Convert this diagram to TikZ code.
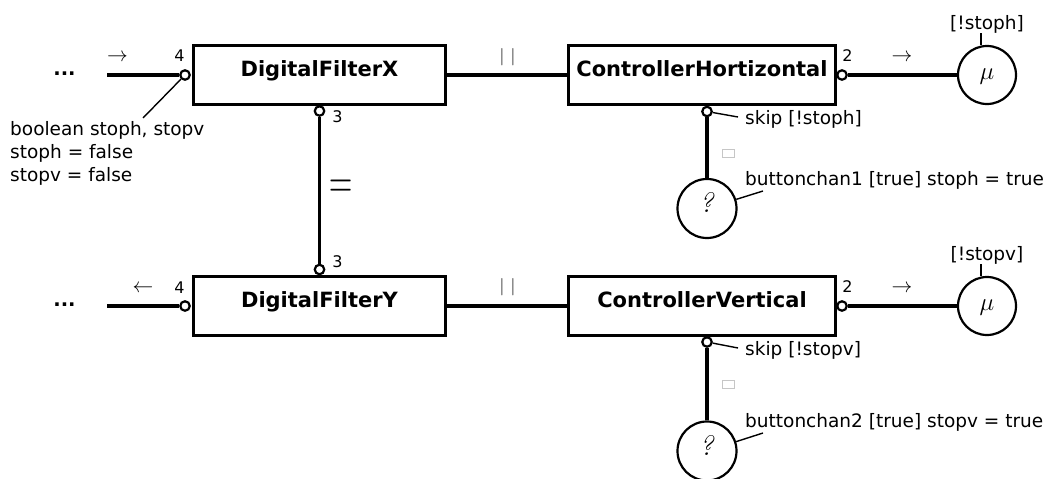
\documentclass[tikz,border=0pt]{standalone}
\usepackage{fontspec}
\usepackage{graphicx}
\newfontfamily\dejavu{DejaVu Sans}
\begin{document}
\begin{tikzpicture}[x=1pt,y=-1pt,
  block/.style={draw, line width=3.4pt, minimum height=59pt, inner sep=0pt,
    font=\dejavu\bfseries\fontsize{21}{25}\selectfont,
    text height=15pt, text depth=11.6pt},
  port/.style={circle, draw, fill=white, line width=2.2pt, minimum size=9.5pt, inner sep=0pt},
  act/.style={circle, draw, line width=2.2pt, minimum size=58pt, inner sep=0pt,
    font=\fontsize{28}{28}\selectfont, text height=14pt, text depth=6pt},
  wire/.style={line width=3.4pt},
  note/.style={line width=1.4pt},
  lbl/.style={font=\dejavu\fontsize{18.5}{23}\selectfont, inner sep=0pt},
  num/.style={font=\dejavu\fontsize{16}{18}\selectfont, inner sep=0pt},
  sym/.style={font=\fontsize{21}{21}\selectfont, inner sep=0pt},
  dots/.style={font=\dejavu\bfseries\fontsize{19.5}{22}\selectfont, inner sep=0pt},
  glyphbox/.style={draw=gray!45, line width=0.9pt, minimum width=12pt, minimum height=8pt, inner sep=0pt}
]
\useasboundingbox (0,0) rectangle (1050,479);

% ---------- horizontal channel (upper row) ----------
\node[block, minimum width=252pt] (dfx) at (319.5,75) {DigitalFilterX};
\node[block, minimum width=267pt] (chx) at (702,75) {ControllerHortizontal};
\node[act] (mux) at (987,75) {$\mu$};
\node[act, minimum size=59pt] (qx) at (707,208.5) {\textit{?}};

\node[port] (dfx4) at (185,75) {};
\node[port] (dfx3) at (319.5,111) {};
\node[port] (chx2) at (842,75) {};
\node[port] (chxs) at (707,111.5) {};

% ---------- vertical channel (lower row) ----------
\node[block, minimum width=252pt] (dfy) at (319.5,306) {DigitalFilterY};
\node[block, minimum width=267pt] (cv) at (702,306) {ControllerVertical};
\node[act] (muy) at (987,306) {$\mu$};
\node[act, minimum size=59pt] (qy) at (707,451) {\textit{?}};

\node[port] (dfy4) at (185,306) {};
\node[port] (dfy3) at (319.5,269.5) {};
\node[port] (cv2) at (842,306) {};
\node[port] (cvs) at (707,342) {};

% ---------- open ends ----------
\coordinate (inx) at (107,75);
\coordinate (iny) at (107,306);
\node[dots, anchor=base] (dotsx) at (64.5,75.7) {...};
\node[dots, anchor=base] (dotsy) at (64.5,306.5) {...};

% ---------- wires ----------
\draw[wire] (inx) -- (dfx4);
\draw[wire] (dfx) -- (chx);
\draw[wire] (chx2) -- (mux);
\draw[wire] (chxs) -- (qx);
\draw[wire] (dfx3) -- (dfy3);
\draw[wire] (iny) -- (dfy4);
\draw[wire] (dfy) -- (cv);
\draw[wire] (cv2) -- (muy);
\draw[wire] (cvs) -- (qy);

% ---------- port numbers ----------
\node[num, anchor=base] (n4x) at (179.5,61.5) {4};
\node[num, anchor=base] (n3x) at (337.5,122) {3};
\node[num, anchor=base] (n2x) at (847.5,61) {2};
\node[num, anchor=base] (n4y) at (179.5,293) {4};
\node[num, anchor=base] (n3y) at (337.5,267) {3};
\node[num, anchor=base] (n2y) at (847.5,292) {2};

% ---------- direction and composition symbols ----------
\node[sym] (arx) at (117.5,58) {$\rightarrow$};
\node[sym] (ary) at (143,288.3) {$\leftarrow$};
\node[sym] (aox) at (902,57.5) {$\rightarrow$};
\node[sym] (aoy) at (902,288.3) {$\rightarrow$};
\node[sym, font=\fontsize{19}{19}\selectfont] (parx) at (507.5,57) {$|\hspace{6.3pt}|$};
\node[sym, font=\fontsize{19}{19}\selectfont] (pary) at (507.5,287.5) {$|\hspace{6.3pt}|$};
\node[sym] (eqxy) at (341,189.7) {\scalebox{1.55}[2.5]{\fontsize{21}{21}\selectfont$=$}};

% ---------- declarations ----------
\node[lbl, anchor=north west, align=left] (decl) at (10,121)
  {boolean stoph, stopv\\stoph = false\\stopv = false};
\coordinate (decla) at (143,118);
\draw[note] (dfx4) -- (decla);

% ---------- guards and alternatives ----------
\node[lbl, anchor=base] (gx) at (987,29) {[!stoph]};
\node[lbl, anchor=base] (gy) at (987,260) {[!stopv]};
\draw[note] ([xshift=-6pt]gx.south) -- ([xshift=-6pt]mux.north);
\draw[note] ([xshift=-6pt]gy.south) -- ([xshift=-6pt]muy.north);

\node[lbl, anchor=base west] (skx) at (745,124) {skip [!stoph]};
\node[lbl, anchor=base west] (sky) at (745,355) {skip [!stopv]};
\coordinate (skxa) at (738,117);
\coordinate (skya) at (738,348);
\draw[note] (chxs) -- (skxa);
\draw[note] (cvs) -- (skya);

\node[glyphbox] (bx) at (728.5,153.5) {};
\node[glyphbox] (by) at (728.5,384.5) {};

\node[lbl, anchor=base west] (btx) at (745,185) {buttonchan1 [true] stoph = true};
\node[lbl, anchor=base west] (bty) at (745,427) {buttonchan2 [true] stopv = true};
\coordinate (btxa) at (763,191);
\coordinate (btya) at (763,433);
\draw[note] (qx) -- (btxa);
\draw[note] (qy) -- (btya);
\end{tikzpicture}
\end{document}
